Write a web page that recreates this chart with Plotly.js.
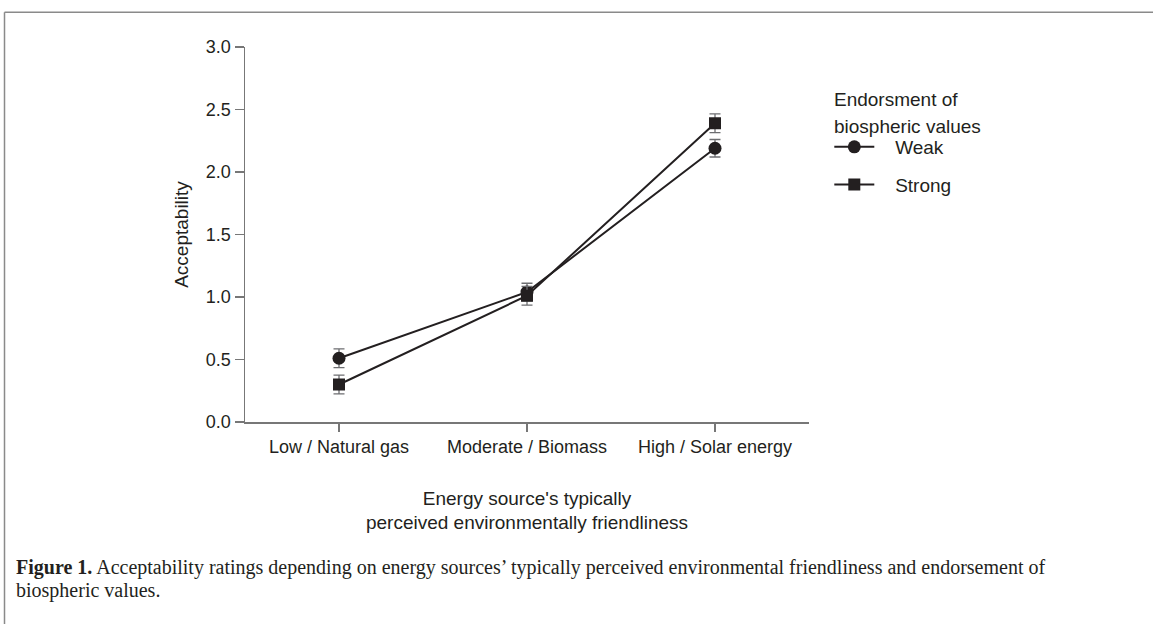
<!DOCTYPE html>
<html>
<head>
<meta charset="utf-8">
<script src="https://cdn.plot.ly/plotly-3.0.1.min.js"></script>
<style>
html,body{margin:0;padding:0;background:#fff;}
#chart{width:1153px;height:624px;}
</style>
</head>
<body>
<div id="chart"></div>
<script>
const categories = ["Low / Natural gas", "Moderate / Biomass", "High / Solar energy"];
const weakValues = [0.51, 1.04, 2.19];
const weakErrors = [0.075, 0.07, 0.07];
const strongValues = [0.30, 1.01, 2.39];
const strongErrors = [0.075, 0.075, 0.075];
const seriesNames = ["Weak", "Strong"];
const legendTitleLines = ["Endorsment of", "biospheric values"];
const yTitle = "Acceptability";
const xTitle = "Energy source's typically<br>perceived environmentally friendliness";
const captionBold = "Figure 1.";
const captionLine1 = " Acceptability ratings depending on energy sources’ typically perceived environmental friendliness and endorsement of";
const captionLine2 = "biospheric values.";
const yTicks = [0, 0.5, 1.0, 1.5, 2.0, 2.5, 3.0];

const ink = "#231f20";
const errColor = "#6d6e71";
const xIdx = categories.map((c, i) => i);
const pad = "\u00A0\u00A0\u00A0";

function series(name, vals, errs, symbol, size, group) {
  return {
    type: "scatter", mode: "lines+markers", name: pad + name,
    x: xIdx, y: vals,
    line: {color: ink, width: 2},
    marker: {symbol: symbol, size: size, color: ink},
    error_y: {type: "data", array: errs, visible: true, color: errColor, thickness: 1.3, width: 5.5},
    legendgroup: group
  };
}

const data = [
  series(seriesNames[0], weakValues, weakErrors, "circle", 13, "g1"),
  series(seriesNames[1], strongValues, strongErrors, "square", 12, "g2")
];

const sans = "Liberation Sans, Arial, sans-serif";
const serif = "Liberation Serif, Times New Roman, serif";
const layout = {
  width: 1153, height: 624,
  margin: {l: 245, r: 344, t: 47, b: 202},
  paper_bgcolor: "#fff", plot_bgcolor: "#fff",
  font: {family: sans, size: 18, color: ink},
  showlegend: true,
  legend: {
    x: 1.036, y: 0.784, xanchor: "left", yanchor: "top",
    font: {family: sans, size: 19, color: ink},
    tracegroupgap: 10, itemwidth: 40
  },
  xaxis: {
    range: [-0.5, 2.5], tickmode: "array", tickvals: xIdx, ticktext: categories,
    showgrid: false, zeroline: false, showline: true, linecolor: "#777", linewidth: 1.5,
    ticks: "outside", ticklen: 8, tickwidth: 1.3, tickcolor: "#777",
    tickfont: {family: sans, size: 18, color: ink},
    title: {text: xTitle, font: {family: sans, size: 19, color: ink}, standoff: 35},
    fixedrange: true
  },
  yaxis: {
    range: [0, 3], tickmode: "array", tickvals: yTicks,
    ticktext: yTicks.map(v => v.toFixed(1)),
    showgrid: false, zeroline: false, showline: true, linecolor: "#777", linewidth: 1.5,
    ticks: "outside", ticklen: 9, tickwidth: 1.3, tickcolor: "#777",
    tickfont: {family: sans, size: 18, color: ink},
    title: {text: yTitle, font: {family: sans, size: 19, color: ink}, standoff: 12},
    fixedrange: true
  },
  shapes: [
    {type: "line", xref: "paper", yref: "paper", x0: -0.4264, x1: -0.4264, y0: 1.093, y1: -0.6, line: {color: "#8a8a8a", width: 1.5}},
    {type: "line", xref: "paper", yref: "paper", x0: -0.4264, x1: 1.61, y0: 1.093, y1: 1.093, line: {color: "#8a8a8a", width: 1.5}}
  ],
  annotations: [
    {xref: "paper", yref: "paper", x: 1.0405, y: 0.8587, xanchor: "left", yanchor: "middle",
     showarrow: false, text: legendTitleLines[0], font: {family: sans, size: 19, color: ink}},
    {xref: "paper", yref: "paper", x: 1.0405, y: 0.7867, xanchor: "left", yanchor: "middle",
     showarrow: false, text: legendTitleLines[1], font: {family: sans, size: 19, color: ink}},
    {xref: "paper", yref: "paper", x: -0.409, y: -0.3893, xanchor: "left", yanchor: "middle", align: "left",
     showarrow: false, text: "<b>" + captionBold + "</b>" + captionLine1,
     font: {family: serif, size: 20, color: ink}},
    {xref: "paper", yref: "paper", x: -0.409, y: -0.448, xanchor: "left", yanchor: "middle", align: "left",
     showarrow: false, text: captionLine2,
     font: {family: serif, size: 20, color: ink}}
  ]
};

Plotly.newPlot("chart", data, layout, {displayModeBar: false, staticPlot: true});
</script>
</body>
</html>
